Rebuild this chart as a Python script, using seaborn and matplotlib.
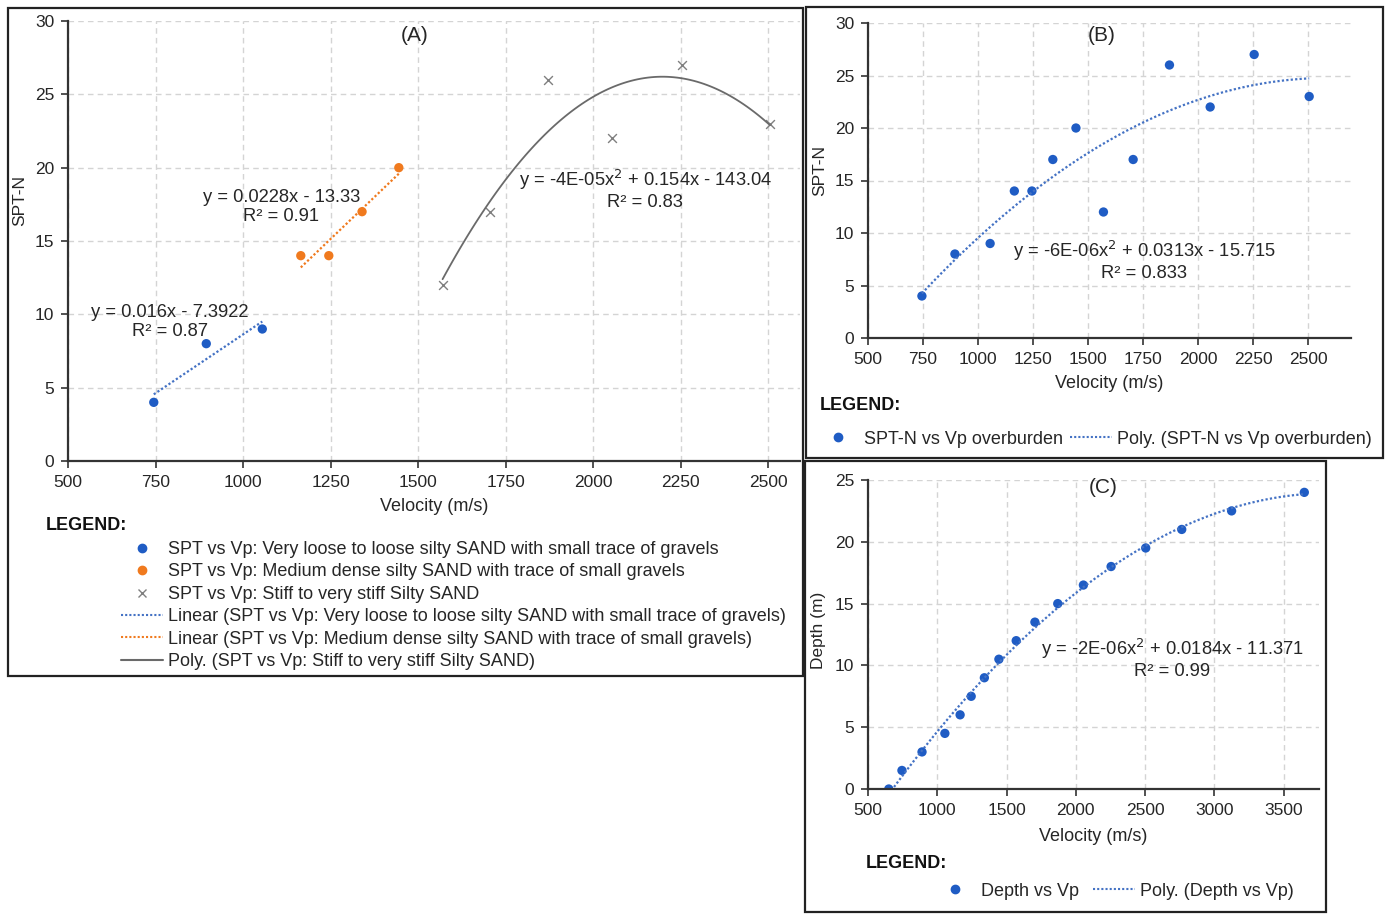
import numpy as np
import matplotlib
matplotlib.use("Agg")
import matplotlib.pyplot as plt
from matplotlib.lines import Line2D
from matplotlib.patches import Rectangle
import seaborn as sns

# ---- data ----
# (A) SPT-N vs Vp grouped by soil type
vp_loose = [745, 895, 1055]
spt_loose = [4, 8, 9]
vp_medium = [1165, 1245, 1340, 1445]
spt_medium = [14, 14, 17, 20]
vp_stiff = [1570, 1705, 1870, 2055, 2255, 2505]
spt_stiff = [12, 17, 26, 22, 27, 23]

# (B) SPT-N vs Vp overburden
vp_all = [745, 895, 1055, 1165, 1245, 1340, 1445, 1570, 1705, 1870, 2055, 2255, 2505]
spt_all = [4, 8, 9, 14, 14, 17, 20, 12, 17, 26, 22, 27, 23]

# (C) Depth vs Vp
vp_depth = [650, 745, 890, 1055, 1165, 1245, 1340, 1445, 1570, 1705, 1870,
            2055, 2255, 2505, 2765, 3125, 3650]
depth = [0, 1.5, 3, 4.5, 6, 7.5, 9, 10.5, 12, 13.5, 15, 16.5, 18, 19.5, 21, 22.5, 24]

label_loose = "SPT vs Vp: Very loose to loose silty SAND with small trace of gravels"
label_medium = "SPT vs Vp: Medium dense silty SAND with trace of small gravels"
label_stiff = "SPT vs Vp: Stiff to very stiff Silty SAND"

BLUE = "#1f5cc4"
BLUE_LINE = "#4472c4"
ORANGE = "#f07a1e"
GREY = "#7f7f7f"
TXT = "#262626"

sns.set_theme(style="white")
plt.rcParams["font.family"] = ["Liberation Sans", "DejaVu Sans"]
plt.rcParams["mathtext.fontset"] = "custom"
FS = 12.5   # ticks / axis labels
FL = 13.0   # legends
FE = 13.2   # equations

W, H = 1387, 914
fig = plt.figure(figsize=(W / 100, H / 100), dpi=100)


def fx(px):
    return px / W


def fy(py):
    return 1 - py / H


def make_axes(l, t, r, b):
    return fig.add_axes([fx(l), fy(b), fx(r) - fx(l), fy(t) - fy(b)])


def style_axes(ax, xticks, yticks):
    ax.set_xticks(xticks)
    ax.set_yticks(yticks)
    ax.grid(True, linestyle=(0, (4, 3)), color="#d4d4d4", linewidth=1.0)
    for s in ["top", "right"]:
        ax.spines[s].set_visible(False)
    for s in ["left", "bottom"]:
        ax.spines[s].set_color("#333333")
        ax.spines[s].set_linewidth(1.6)
    ax.tick_params(axis="both", direction="out", length=5, width=1.2, color="#333333",
                   labelsize=FS, labelcolor=TXT, pad=5, bottom=True, left=True)
    ax.set_facecolor("none")


# frames around the three panels
for (l, t, r, b) in [(8, 8, 803, 676), (806, 7, 1383, 458), (805, 461, 1326, 912)]:
    fig.patches.append(Rectangle((fx(l), fy(b)), fx(r) - fx(l), fy(t) - fy(b),
                                 transform=fig.transFigure, fill=False,
                                 edgecolor="#222222", linewidth=1.6))

# ---------------- panel A ----------------
axA = make_axes(68, 21, 800, 461)
sns.scatterplot(x=vp_loose, y=spt_loose, color=BLUE, s=45, edgecolor="none", ax=axA)
sns.scatterplot(x=vp_medium, y=spt_medium, color=ORANGE, s=45, edgecolor="none", ax=axA)
sns.scatterplot(x=vp_stiff, y=spt_stiff, marker="x", color=GREY, s=40, linewidth=1.0, ax=axA)
sns.regplot(x=vp_loose, y=spt_loose, order=1, ci=None, scatter=False, ax=axA,
            line_kws=dict(color=BLUE_LINE, linestyle=(0, (1, 1)), linewidth=1.6))
sns.regplot(x=vp_medium, y=spt_medium, order=1, ci=None, scatter=False, ax=axA,
            line_kws=dict(color=ORANGE, linestyle=(0, (1, 1)), linewidth=1.6))
sns.regplot(x=vp_stiff, y=spt_stiff, order=2, ci=None, scatter=False, ax=axA,
            line_kws=dict(color="#6a6a6a", linestyle="-", linewidth=1.3))
axA.set_xlim(500, 2591)
axA.set_ylim(0, 30)
style_axes(axA, [500, 750, 1000, 1250, 1500, 1750, 2000, 2250, 2500], range(0, 31, 5))
axA.set_xlabel("Velocity (m/s)", fontsize=FL, color=TXT, labelpad=5.5)
axA.set_ylabel("")
fig.text(fx(20), fy(200), "SPT-N", rotation=90, ha="center", va="center", fontsize=FS, color=TXT)
axA.text(1489, 29.0, "(A)", ha="center", va="center", fontsize=15, color=TXT)
axA.text(791, 9.5, "y = 0.016x - 7.3922\nR\u00b2 = 0.87", ha="center", va="center",
         fontsize=FE, color=TXT, linespacing=1.15)
axA.text(1109, 17.3, "y = 0.0228x - 13.33\nR\u00b2 = 0.91", ha="center", va="center",
         fontsize=FE, color=TXT, linespacing=1.15)
axA.text(2149, 18.5, "y = -4E-05x$^{2}$ + 0.154x - 143.04\nR\u00b2 = 0.83", ha="center",
         va="center", fontsize=FE, color=TXT, linespacing=1.15)

fig.text(fx(46), fy(525), "LEGEND:", fontweight="bold", fontsize=FL, color="#111111",
         ha="left", va="center")
handlesA = [
    Line2D([], [], linestyle="none", marker="o", markersize=6, color=BLUE),
    Line2D([], [], linestyle="none", marker="o", markersize=6, color=ORANGE),
    Line2D([], [], linestyle="none", marker="x", markersize=6, color=GREY, markeredgewidth=1),
    Line2D([], [], color=BLUE_LINE, linestyle=(0, (1, 1)), linewidth=1.5),
    Line2D([], [], color=ORANGE, linestyle=(0, (1, 1)), linewidth=1.5),
    Line2D([], [], color="#6a6a6a", linewidth=1.5),
]
labelsA = [label_loose, label_medium, label_stiff,
           "Linear (" + label_loose + ")", "Linear (" + label_medium + ")",
           "Poly. (" + label_stiff + ")"]
fig.legend(handlesA, labelsA, loc="upper left", bbox_to_anchor=(fx(121), fy(541)),
           frameon=False, fontsize=FL, labelcolor=TXT, handlelength=2.3,
           handletextpad=0.3, labelspacing=0.30, borderpad=0, borderaxespad=0)

# ---------------- panel B ----------------
axB = make_axes(868, 23, 1351, 338)
sns.scatterplot(x=vp_all, y=spt_all, color=BLUE, s=45, edgecolor="none", ax=axB)
sns.regplot(x=vp_all, y=spt_all, order=2, ci=None, scatter=False, ax=axB,
            line_kws=dict(color=BLUE_LINE, linestyle=(0, (1, 1)), linewidth=1.6))
axB.set_xlim(500, 2695)
axB.set_ylim(0, 30)
style_axes(axB, [500, 750, 1000, 1250, 1500, 1750, 2000, 2250, 2500], range(0, 31, 5))
axB.set_xlabel("Velocity (m/s)", fontsize=FL, color=TXT, labelpad=6)
axB.set_ylabel("")
fig.text(fx(820), fy(170), "SPT-N", rotation=90, ha="center", va="center", fontsize=FS, color=TXT)
axB.text(1560, 28.8, "(B)", ha="center", va="center", fontsize=15, color=TXT)
axB.text(1756, 7.4, "y = -6E-06x$^{2}$ + 0.0313x - 15.715\nR\u00b2 = 0.833", ha="center",
         va="center", fontsize=FE, color=TXT, linespacing=1.15)
fig.text(fx(820), fy(406), "LEGEND:", fontweight="bold", fontsize=FL, color="#111111",
         ha="left", va="center")
fig.legend([Line2D([], [], linestyle="none", marker="o", markersize=6, color=BLUE),
            Line2D([], [], color=BLUE_LINE, linestyle=(0, (1, 1)), linewidth=1.5)],
           ["SPT-N vs Vp overburden", "Poly. (SPT-N vs Vp overburden)"],
           loc="center left", bbox_to_anchor=(fx(817), fy(439)), ncol=2,
           frameon=False, fontsize=FL, labelcolor=TXT, handlelength=2.3,
           handletextpad=0.3, columnspacing=0.4, borderpad=0, borderaxespad=0)

# ---------------- panel C ----------------
axC = make_axes(868, 480, 1319, 789)
sns.scatterplot(x=vp_depth, y=depth, color=BLUE, s=45, edgecolor="none", ax=axC)
sns.regplot(x=vp_depth, y=depth, order=2, ci=None, scatter=False, ax=axC,
            line_kws=dict(color=BLUE_LINE, linestyle=(0, (1, 1)), linewidth=1.6))
axC.set_xlim(500, 3756)
axC.set_ylim(0, 25)
style_axes(axC, range(500, 3501, 500), range(0, 26, 5))
axC.set_xlabel("Velocity (m/s)", fontsize=FL, color=TXT, labelpad=7)
axC.set_ylabel("")
fig.text(fx(819), fy(630), "Depth (m)", rotation=90, ha="center", va="center", fontsize=FS, color=TXT)
axC.text(2198, 24.4, "(C)", ha="center", va="center", fontsize=15, color=TXT)
axC.text(2696, 10.6, "y = -2E-06x$^{2}$ + 0.0184x - 11.371\nR\u00b2 = 0.99", ha="center",
         va="center", fontsize=FE, color=TXT, linespacing=1.15)
fig.text(fx(866), fy(863), "LEGEND:", fontweight="bold", fontsize=FL, color="#111111",
         ha="left", va="center")
fig.legend([Line2D([], [], linestyle="none", marker="o", markersize=6, color=BLUE),
            Line2D([], [], color=BLUE_LINE, linestyle=(0, (1, 1)), linewidth=1.5)],
           ["Depth vs Vp", "Poly. (Depth vs Vp)"],
           loc="center left", bbox_to_anchor=(fx(934), fy(891)), ncol=2,
           frameon=False, fontsize=FL, labelcolor=TXT, handlelength=2.3,
           handletextpad=0.3, columnspacing=0.8, borderpad=0, borderaxespad=0)

fig.savefig("out.png", dpi=100)
